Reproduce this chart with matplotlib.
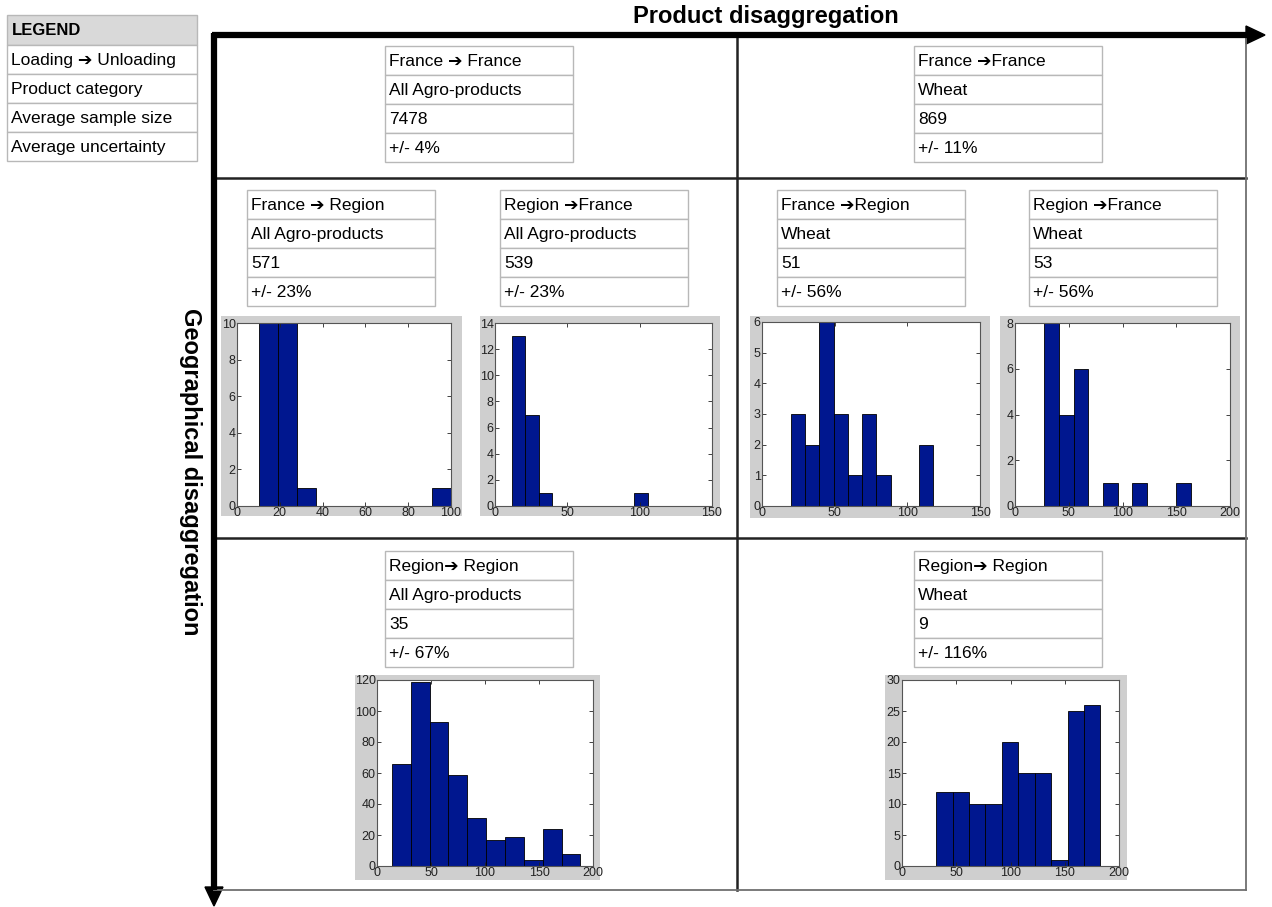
import numpy as np
import matplotlib
matplotlib.use('Agg')
import matplotlib.pyplot as plt
from matplotlib.patches import Rectangle, Polygon

plt.rcParams['font.family'] = ['Liberation Sans', 'DejaVu Sans']

W, H = 1272, 907

# legend rows
legend_rows = ['Loading \u2794 Unloading', 'Product category',
               'Average sample size', 'Average uncertainty']

# info tables: route, product, sample size, uncertainty
routes = ['France \u2794 France', 'France \u2794France',
          'France \u2794 Region', 'Region \u2794France',
          'France \u2794Region', 'Region \u2794France',
          'Region\u2794 Region', 'Region\u2794 Region']
products = ['All Agro-products', 'Wheat',
            'All Agro-products', 'All Agro-products', 'Wheat', 'Wheat',
            'All Agro-products', 'Wheat']
sample_sizes = ['7478', '869', '571', '539', '51', '53', '35', '9']
uncertainties = ['+/- 4%', '+/- 11%', '+/- 23%', '+/- 23%',
                 '+/- 56%', '+/- 56%', '+/- 67%', '+/- 116%']

# histograms: bin range (min, max) and counts of the 10 bins
hist_ranges = [(10.1, 100), (11.5, 105.5), (19.8, 117.9),
               (27.3, 163.4), (13.8, 188.3), (31.5, 182.8)]
hist_counts = [
    [10, 10, 1, 0, 0, 0, 0, 0, 0, 1],
    [13, 7, 1, 0, 0, 0, 0, 0, 0, 1],
    [3, 2, 6, 3, 1, 3, 1, 0, 0, 2],
    [8, 4, 6, 0, 1, 0, 1, 0, 0, 1],
    [66, 119, 93, 59, 31, 17, 19, 4, 24, 8],
    [12, 12, 10, 10, 20, 15, 15, 1, 25, 26],
]
hist_xticks = [np.arange(0, 101, 20), [0, 50, 100, 150], [0, 50, 100, 150],
               np.arange(0, 201, 50), np.arange(0, 201, 50), np.arange(0, 201, 50)]
hist_yticks = [np.arange(0, 11, 2), np.arange(0, 15, 2), np.arange(0, 7, 1),
               np.arange(0, 9, 2), np.arange(0, 121, 20), np.arange(0, 31, 5)]

fig = plt.figure(figsize=(W / 100, H / 100), dpi=100)
ax0 = fig.add_axes([0, 0, 1, 1])
ax0.set_xlim(0, W)
ax0.set_ylim(H, 0)
ax0.axis('off')

# grid of the panel
grid_c = '#222222'
ax0.plot([737, 737], [37, 890], color=grid_c, lw=1.8)
ax0.plot([214, 1246], [178, 178], color=grid_c, lw=1.8)
ax0.plot([214, 1246], [538, 538], color=grid_c, lw=1.8)
ax0.plot([1246, 1246], [37, 890], color='#707070', lw=1.3)
ax0.plot([214, 1246], [890, 890], color='#707070', lw=1.3)

# thick arrows
ax0.plot([212, 1250], [35, 35], color='black', lw=4.5, solid_capstyle='butt')
ax0.add_patch(Polygon([[1246, 26], [1265, 35], [1246, 44]], closed=True, color='black'))
ax0.plot([214, 214], [33, 890], color='black', lw=4.5, solid_capstyle='butt')
ax0.add_patch(Polygon([[205, 887], [214, 906], [223, 887]], closed=True, color='black'))

ax0.text(766, 17, 'Product disaggregation', ha='center', va='center',
         fontsize=17, fontweight='bold')
ax0.text(190, 472, 'Geographical disaggregation', ha='center', va='center',
         fontsize=17, fontweight='bold', rotation=270)

border = '#b8b8b8'


def draw_table(x, y, w, rh, rows, header=None):
    top = y
    if header is not None:
        ax0.add_patch(Rectangle((x, top), w, rh + 1, facecolor='#d9d9d9',
                                edgecolor=border, lw=1))
        ax0.text(x + 5, top + rh / 2 + 1, header, ha='left', va='center',
                 fontsize=12, fontweight='bold')
        top += rh + 1
    for r in rows:
        ax0.add_patch(Rectangle((x, top), w, rh, facecolor='white',
                                edgecolor=border, lw=1))
        ax0.text(x + 4, top + rh / 2 + 1, r, ha='left', va='center', fontsize=12.5)
        top += rh


draw_table(7, 15, 190, 29, legend_rows, header='LEGEND')

table_pos = [(385, 46), (914, 46), (247, 190), (500, 190),
             (777, 190), (1029, 190), (385, 551), (914, 551)]
for i, (tx, ty) in enumerate(table_pos):
    draw_table(tx, ty, 188, 29,
               [routes[i], products[i], sample_sizes[i], uncertainties[i]])

# gray backgrounds and axes boxes (pixel coords)
gray_boxes = [(221, 316, 462, 516), (480, 316, 720, 516),
              (750, 316, 990, 518), (1000, 316, 1240, 518),
              (355, 675, 600, 880), (885, 675, 1127, 880)]
axes_boxes = [(237, 323, 451, 506), (495, 323, 712, 506),
              (762, 322, 980, 506), (1015, 323, 1230, 506),
              (377, 680, 593, 866), (902, 680, 1119, 866)]
xlims = [(0, 100), (0, 150), (0, 150), (0, 200), (0, 200), (0, 200)]

for gx0, gy0, gx1, gy1 in gray_boxes:
    ax0.add_patch(Rectangle((gx0, gy0), gx1 - gx0, gy1 - gy0,
                            facecolor='#cfcfcf', edgecolor='none'))

bar_c = '#00178f'
for i, (x0, y0, x1, y1) in enumerate(axes_boxes):
    ax = fig.add_axes([x0 / W, 1 - y1 / H, (x1 - x0) / W, (y1 - y0) / H])
    lo, hi = hist_ranges[i]
    counts = np.array(hist_counts[i])
    edges = np.linspace(lo, hi, len(counts) + 1)
    ax.bar(edges[:-1], counts, width=np.diff(edges), align='edge',
           color=bar_c, edgecolor='black', linewidth=0.6)
    ax.set_xlim(*xlims[i])
    ax.set_ylim(hist_yticks[i][0], hist_yticks[i][-1])
    ax.set_xticks(hist_xticks[i])
    ax.set_yticks(hist_yticks[i])
    ax.tick_params(direction='in', length=3, width=0.6, top=True, right=True,
                   labelsize=9, pad=1, colors='#222222')
    for s in ax.spines.values():
        s.set_color('#555555')
        s.set_linewidth(0.8)

fig.savefig('out.png', dpi=100)
